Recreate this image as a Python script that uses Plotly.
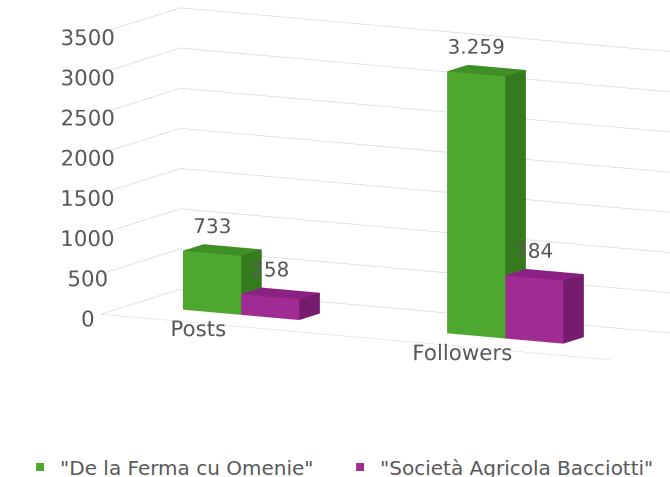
import plotly.graph_objects as go

categories = ["Posts", "Followers"]
series_names = ['"De la Ferma cu Omenie"', '"Società Agricola Bacciotti"']
ferma_values = [733, 3259]
bacciotti_values = [258, 784]
z_ticks = [0, 500, 1000, 1500, 2000, 2500, 3000, 3500]

series_values = [ferma_values, bacciotti_values]
front_colors = ["#4EA72E", "#A02B93"]
top_colors = ["#3F8F26", "#8B2182"]
side_colors = ["#357A1F", "#761C6D"]

BAR_W = 0.22
Y0, Y1 = 0.37, 0.63
FONT = "DejaVu Sans"


def fmt(v):
    return f"{v:,}".replace(",", ".")


def box_mesh(values, offset, fc, tc, sc):
    xs, ys, zs, I, J, K, cols = [], [], [], [], [], [], []
    for ci, v in enumerate(values):
        x0 = ci + offset
        x1 = x0 + BAR_W
        z0, z1 = 0.0, float(v)
        base = len(xs)
        verts = [(x0, Y0, z0), (x1, Y0, z0), (x1, Y1, z0), (x0, Y1, z0),
                 (x0, Y0, z1), (x1, Y0, z1), (x1, Y1, z1), (x0, Y1, z1)]
        for a, b, c in verts:
            xs.append(a); ys.append(b); zs.append(c)
        faces = [((0, 1, 2), sc), ((0, 2, 3), sc),
                 ((4, 5, 6), tc), ((4, 6, 7), tc),
                 ((0, 1, 5), fc), ((0, 5, 4), fc),
                 ((3, 2, 6), sc), ((3, 6, 7), sc),
                 ((0, 3, 7), sc), ((0, 7, 4), sc),
                 ((1, 2, 6), sc), ((1, 6, 5), sc)]
        for (a, b, c), col in faces:
            I.append(base + a); J.append(base + b); K.append(base + c); cols.append(col)
    return xs, ys, zs, I, J, K, cols


fig = go.Figure()
offsets = [-BAR_W, 0.0]
for si, vals in enumerate(series_values):
    xs, ys, zs, I, J, K, cols = box_mesh(vals, offsets[si], front_colors[si], top_colors[si], side_colors[si])
    fig.add_trace(go.Mesh3d(x=xs, y=ys, z=zs, i=I, j=J, k=K, facecolor=cols,
                            flatshading=True,
                            lighting=dict(ambient=1, diffuse=0, specular=0, fresnel=0, roughness=1),
                            hoverinfo="skip", showlegend=False, showscale=False))
    fig.add_trace(go.Scatter3d(
        x=[ci + offsets[si] + BAR_W / 2 for ci in range(len(vals))],
        y=[Y0] * len(vals),
        z=vals,
        mode="text",
        text=[fmt(v) for v in vals],
        textposition="top center",
        textfont=dict(size=20, color="#595959", family=FONT),
        showlegend=False, hoverinfo="skip"))
    fig.add_trace(go.Scatter3d(x=[None], y=[None], z=[None], mode="markers",
                               marker=dict(symbol="square", size=8, color=front_colors[si]),
                               name=series_names[si], showlegend=True))

axis_common = dict(showbackground=False, showspikes=False, title=dict(text=""))
view_dir = (0.463, -0.870, 0.168)
r = 1.6
cen = (-0.243, -0.129, -0.165)
fig.update_layout(
    width=670, height=477,
    margin=dict(l=0, r=0, t=0, b=0, autoexpand=False),
    paper_bgcolor="white",
    font=dict(family=FONT, color="#595959", size=18),
    scene=dict(
        domain=dict(x=[0, 1], y=[0.08, 1]),
        xaxis=dict(axis_common, range=[-0.42, 1.51], tickvals=[0, 1], ticktext=categories,
                   tickangle=0, showgrid=False, showline=True, linecolor="#d9d9d9", zeroline=False,
                   ticks="outside", ticklen=30, tickcolor="rgba(255,255,255,0)",
                   tickfont=dict(size=16, color="#595959", family=FONT)),
        yaxis=dict(axis_common, range=[0, 1], showgrid=False, showticklabels=False,
                   showline=False, zeroline=False, ticks=""),
        zaxis=dict(axis_common, range=[0, 3500], tickvals=z_ticks, showgrid=True, tickangle=0,
                   gridcolor="#d9d9d9", gridwidth=1.5, zeroline=False, showline=False,
                   ticks="outside", ticklen=30, tickcolor="rgba(255,255,255,0)",
                   tickfont=dict(size=16, color="#595959", family=FONT)),
        aspectmode="manual",
        aspectratio=dict(x=2.63, y=0.77, z=1.30),
        camera=dict(eye=dict(x=cen[0] + view_dir[0] * r, y=cen[1] + view_dir[1] * r,
                             z=cen[2] + view_dir[2] * r),
                    center=dict(x=cen[0], y=cen[1], z=cen[2]),
                    up=dict(x=0, y=0, z=1), projection=dict(type="orthographic")),
    ),
    legend=dict(orientation="h", x=0.03, xanchor="left", y=-0.02, yanchor="bottom",
                entrywidth=275, font=dict(size=20, color="#595959", family=FONT)),
)

fig.write_html("out.html")
